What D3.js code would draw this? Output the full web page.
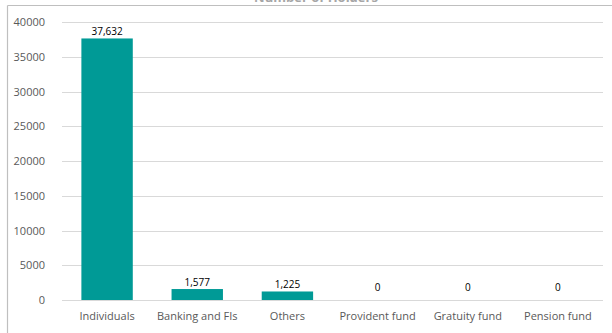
<!DOCTYPE html>
<html>
<head>
<meta charset="utf-8">
<script src="https://cdn.jsdelivr.net/npm/d3@7"></script>
<style>
  html, body { margin: 0; padding: 0; background: #fff; overflow: hidden; }
  svg { display: block; overflow: hidden; }
  text { font-family: "Open Sans", "Noto Sans", sans-serif; }
</style>
</head>
<body>
<svg id="chart" width="612" height="333"></svg>
<script>
// Holders by investor category
const categories = ["Individuals", "Banking and FIs", "Others", "Provident fund", "Gratuity fund", "Pension fund"];
const holders = [37632, 1577, 1225, 0, 0, 0];
const yTicks = [0, 5000, 10000, 15000, 20000, 25000, 30000, 35000, 40000];
const title = "Number of Holders";

const svg = d3.select("#chart");
const W = 612, H = 333;
const plot = { left: 62, right: 603, top: 22, bottom: 300 };

// chart frame: left and top edges only, the rest runs off the page
svg.append("line")
  .attr("x1", 7.5).attr("x2", 7.5).attr("y1", 5.5).attr("y2", H)
  .attr("stroke", "#bfbfbf").attr("stroke-width", 1.2);
svg.append("line")
  .attr("x1", 7.5).attr("x2", W).attr("y1", 5.5).attr("y2", 5.5)
  .attr("stroke", "#bfbfbf").attr("stroke-width", 1.2);

// title sits above the frame, mostly outside the visible area
svg.append("text")
  .attr("x", 316).attr("y", 1.5)
  .attr("text-anchor", "middle")
  .attr("font-size", 13).attr("font-weight", "bold")
  .attr("fill", "#a6a6a6")
  .text(title);

const x = d3.scaleBand()
  .domain(categories)
  .range([plot.left, plot.right])
  .paddingInner(0.43).paddingOuter(0.215);

const y = d3.scaleLinear()
  .domain([0, 40000])
  .range([plot.bottom, plot.top]);

// gridlines
svg.append("g")
  .selectAll("line")
  .data(yTicks)
  .join("line")
  .attr("x1", plot.left).attr("x2", plot.right)
  .attr("y1", d => Math.round(y(d)) + 0.5).attr("y2", d => Math.round(y(d)) + 0.5)
  .attr("stroke", "#d9d9d9").attr("stroke-width", 1);

// y axis labels
const yAxis = d3.axisLeft(y).tickValues(yTicks).tickFormat(d3.format("d")).tickSize(0).tickPadding(0);
svg.append("g")
  .attr("transform", `translate(${plot.left - 17},0)`)
  .call(yAxis)
  .call(g => g.select(".domain").remove())
  .call(g => g.selectAll("text")
    .attr("font-size", 11).attr("fill", "#595959")
    .attr("font-family", "'Open Sans', 'Noto Sans', sans-serif"));

// bars
svg.append("g")
  .selectAll("rect")
  .data(holders)
  .join("rect")
  .attr("x", (d, i) => x(categories[i]))
  .attr("width", x.bandwidth())
  .attr("y", d => y(d))
  .attr("height", d => y(0) - y(d))
  .attr("fill", "#009a96");

// baseline drawn over the bars
svg.append("line")
  .attr("x1", plot.left).attr("x2", plot.right)
  .attr("y1", plot.bottom + 0.5).attr("y2", plot.bottom + 0.5)
  .attr("stroke", "#d9d9d9");

// value labels
const fmt = d3.format(",");
svg.append("g")
  .selectAll("text")
  .data(holders)
  .join("text")
  .attr("x", (d, i) => x(categories[i]) + x.bandwidth() / 2)
  .attr("y", d => Math.min(y(d) - 7, 287) + 3.5)
  .attr("text-anchor", "middle")
  .attr("font-size", 10).attr("fill", "#000")
  .text(d => fmt(d));

// x axis labels
const xAxis = d3.axisBottom(x).tickSize(0).tickPadding(0);
svg.append("g")
  .attr("transform", `translate(0,${plot.bottom + 12})`)
  .call(xAxis)
  .call(g => g.select(".domain").remove())
  .call(g => g.selectAll("text")
    .attr("font-size", 11).attr("fill", "#595959")
    .attr("font-family", "'Open Sans', 'Noto Sans', sans-serif"));
</script>
</body>
</html>
